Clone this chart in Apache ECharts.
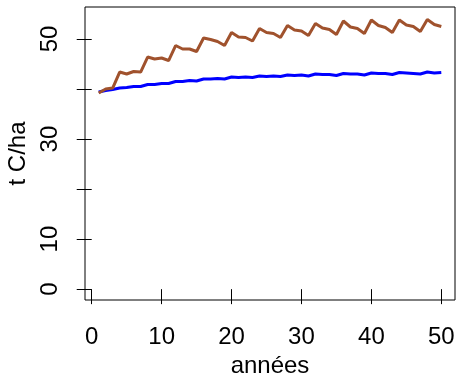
<!DOCTYPE html>
<html>
<head>
<meta charset="utf-8">
<script src="https://cdn.jsdelivr.net/npm/echarts@6/dist/echarts.min.js"></script>
<style>html,body{margin:0;padding:0;background:#fff}#c{width:457px;height:378px}</style>
</head>
<body>
<div id="c"></div>
<script>
var years = [];
for (var i = 1; i <= 50; i++) years.push(i);
var brownValues = [39.2,40.0,40.2,43.4,43.0,43.5,43.4,46.4,46.0,46.2,45.7,48.7,48.0,48.0,47.5,50.2,49.9,49.5,48.7,51.3,50.4,50.3,49.6,52.1,51.3,51.1,50.3,52.7,51.8,51.6,50.7,53.1,52.2,51.9,50.9,53.6,52.4,52.1,51.1,53.8,52.7,52.3,51.3,53.8,52.8,52.5,51.5,53.9,52.9,52.5];
var blueValues = [39.4,39.7,39.9,40.2,40.3,40.5,40.5,40.9,40.9,41.1,41.1,41.5,41.5,41.7,41.6,42.0,42.0,42.1,42.0,42.4,42.3,42.4,42.3,42.6,42.5,42.6,42.5,42.8,42.7,42.8,42.6,43.0,42.9,42.9,42.7,43.1,43.0,43.0,42.8,43.2,43.1,43.1,42.9,43.3,43.2,43.1,43.0,43.4,43.2,43.3];
var xTicks = [0,10,20,30,40,50];
var yTicks = [0,10,20,30,40,50];
var yTickLabels = [0,10,30,50];
var xTitle = 'années';
var yTitle = 't C/ha';

function pairs(vals){ return years.map(function(y,i){return [y, vals[i]];}); }
var font = 'Liberation Sans, Arial, Helvetica, sans-serif';
var fs = 24;
var chart = echarts.init(document.getElementById('c'), null, {renderer:'canvas'});
chart.setOption({
  animation:false,
  grid:{left:85, right:2, top:7, bottom:78, show:true, borderColor:'#000', borderWidth:1, backgroundColor:'transparent', containLabel:false, outerBoundsMode:'none'},
  xAxis:{type:'value', min:-0.96, max:51.96,
    name:xTitle, nameLocation:'middle', nameGap:52,
    nameTextStyle:{fontFamily:font, fontSize:fs, color:'#000'},
    axisLine:{show:false}, splitLine:{show:false},
    axisTick:{show:true, inside:false, length:15, lineStyle:{color:'#000', width:1}, customValues:xTicks},
    axisLabel:{show:true, margin:25, fontFamily:font, fontSize:fs, color:'#000', customValues:xTicks}
  },
  yAxis:{type:'value', min:-2.17, max:56.4,
    name:yTitle, nameLocation:'middle', nameGap:47, nameRotate:90,
    nameTextStyle:{fontFamily:font, fontSize:fs, color:'#000'},
    axisLine:{show:false}, splitLine:{show:false},
    axisTick:{show:true, inside:false, length:15, lineStyle:{color:'#000', width:1}, customValues:yTicks},
    axisLabel:{show:true, margin:23, rotate:90, fontFamily:font, fontSize:fs, color:'#000', customValues:yTickLabels}
  },
  series:[
    {type:'line', data:pairs(brownValues), showSymbol:false, symbol:'none', lineStyle:{color:'#A0522D', width:3}, z:3},
    {type:'line', data:pairs(blueValues), showSymbol:false, symbol:'none', lineStyle:{color:'#0000FF', width:3}, z:2}
  ]
});
</script>
</body>
</html>
